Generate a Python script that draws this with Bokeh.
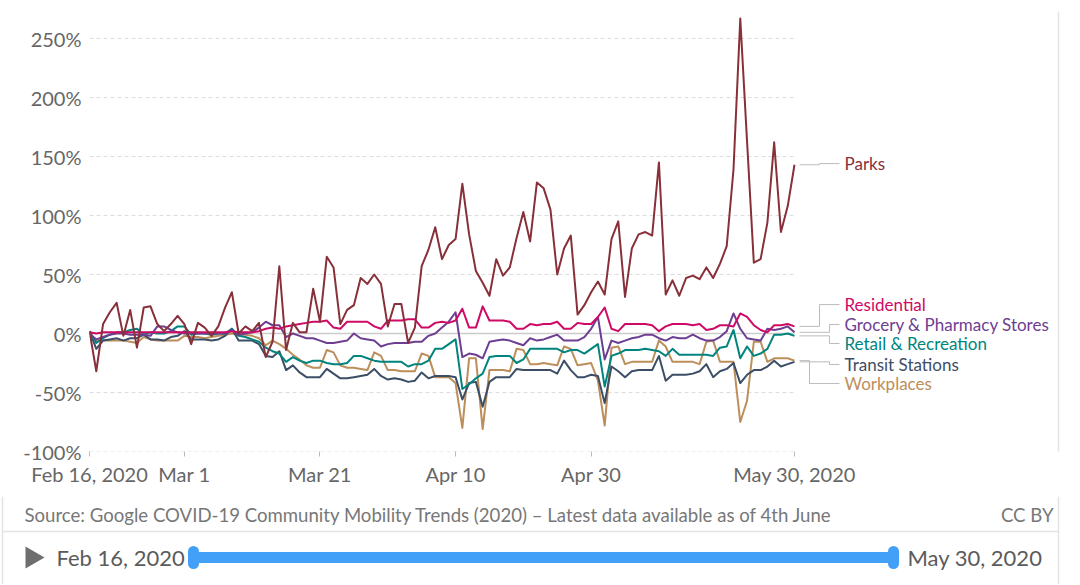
import pandas as pd
from bokeh.plotting import figure
from bokeh.layouts import column
from bokeh.models import FixedTicker, Range1d, ColumnDataSource
from bokeh.embed import file_html
from bokeh.resources import INLINE
from bokeh.core.properties import value

# ---------------- data ----------------
dates = pd.date_range("2020-02-16", "2020-05-30", freq="D")

parks = [2, -32, 8, 18, 26, -2, 20, -12, 22, 23,
         8, 2, 8, 15, 8, -9, 9, 5, -2, 6,
         22, 35, 0, 6, 2, 9, -20, -7, 57, -14,
         9, 1, 1, 38, 10, 65, 56, 8, 20, 24,
         47, 42, 50, 42, 6, 25, 25, -8, 5, 57,
         71, 90, 63, 75, 80, 127, 84, 53, 43, 32,
         63, 49, 56, 81, 103, 78, 128, 123, 105, 50,
         72, 83, 16, 24, 35, 44, 33, 80, 95, 31,
         72, 84, 86, 83, 145, 33, 45, 32, 47, 49,
         46, 56, 47, 59, 74, 139, 267, 163, 60, 63,
         94, 162, 86, 108, 143]

residential = [1, 0, 1, 1, 1, 1, 1, 1, 1, 1,
               1, 1, 1, 1, 1, 1, 1, 1, 1, 1,
               1, 2, 1, 1, 1, 2, 4, 5, 4, 6,
               7, 8, 9, 10, 10, 11, 5, 4, 10, 10,
               10, 10, 6, 4, 11, 11, 11, 12, 12, 5,
               5, 9, 10, 9, 11, 21, 5, 5, 23, 11,
               11, 11, 10, 4, 4, 8, 7, 8, 8, 10,
               4, 4, 9, 8, 8, 14, 22, 4, 2, 8,
               8, 8, 8, 7, 2, 6, 8, 8, 8, 7,
               8, 3, 4, 7, 7, 6, 17, 14, 7, 3,
               1, 7, 7, 8, 6]

grocery = [0, -5, -3, -1, 0, 0, -1, -1, -1, -2,
           6, 6, 3, 1, 0, 0, 0, 0, 0, 0,
           0, 3, -1, 0, 1, 5, 10, 7, 7, -3,
           0, -2, -4, -4, -6, -8, -8, -7, -6, 0,
           -4, -5, -6, -11, -9, -8, -8, -8, -7, -7,
           -2, 0, 5, 10, 18, -20, -17, -18, -21, -7,
           -6, -5, -6, -8, -10, -4, -6, -5, -3, -1,
           -6, -6, -6, -3, 4, 14, -22, -6, -8, -6,
           -4, -3, -1, -1, -4, -6, -3, -4, -4, -1,
           -4, -6, -6, -3, 2, 17, 4, -4, -5, -6,
           4, 3, 4, 6, 1]

retail = [2, -8, -4, -1, 1, 1, 3, 4, -1, 1,
          0, 0, 2, 6, 6, -1, 0, 0, -1, 0,
          0, 4, -2, -3, -5, -7, -12, -15, -17, -24,
          -20, -23, -25, -23, -23, -25, -26, -26, -25, -19,
          -19, -21, -23, -24, -24, -24, -24, -28, -26, -26,
          -23, -13, -13, -9, -5, -47, -43, -38, -34, -20,
          -19, -19, -19, -25, -22, -13, -13, -13, -13, -13,
          -16, -14, -14, -17, -13, -9, -45, -19, -17, -14,
          -14, -14, -13, -14, -15, -19, -13, -18, -18, -18,
          -18, -18, -19, -12, -11, 3, -21, -11, -19, -17,
          -13, -1, -1, 0, -2]

transit = [2, -13, -6, -5, -4, -6, -4, -4, -1, -5,
           -5, -6, -3, -2, 2, -5, -5, -5, -6, -5,
           -2, 4, -6, -6, -6, -9, -19, -20, -15, -31,
           -27, -33, -37, -37, -37, -30, -34, -38, -38, -37,
           -36, -35, -30, -36, -39, -38, -39, -41, -40, -33,
           -38, -36, -36, -36, -37, -56, -42, -41, -62, -41,
           -37, -37, -37, -30, -31, -31, -31, -31, -31, -34,
           -23, -31, -37, -37, -35, -36, -59, -28, -32, -37,
           -32, -31, -31, -31, -19, -40, -35, -35, -35, -34,
           -32, -26, -37, -32, -30, -25, -42, -35, -31, -31,
           -28, -23, -28, -26, -24]

workplaces = [-2, -6, -6, -6, -6, -6, -7, -8, -3, -5,
              -6, -6, -6, -6, -2, -3, -3, -4, -3, -2,
              -1, 0, -1, -1, -2, -4, -10, -6, -9, -13,
              -18, -22, -27, -29, -29, -14, -16, -27, -29, -29,
              -30, -31, -16, -19, -31, -31, -32, -32, -32, -17,
              -19, -37, -37, -37, -42, -80, -21, -21, -81, -31,
              -31, -31, -32, -13, -14, -26, -26, -25, -26, -27,
              -11, -13, -27, -26, -25, -40, -78, -12, -11, -26,
              -24, -24, -24, -24, -6, -11, -24, -24, -24, -24,
              -26, -7, -6, -24, -24, -24, -75, -57, -7, -7,
              -24, -21, -21, -21, -23]

series_names = ["Workplaces", "Transit Stations", "Retail & Recreation",
                "Grocery & Pharmacy Stores", "Residential", "Parks"]
series_values = [workplaces, transit, retail, grocery, residential, parks]
series_colors = ["#BC8E5A", "#3C4E66", "#00847E", "#6D3E91", "#CF0A66", "#883039"]

x_tick_dates = ["2020-02-16", "2020-03-01", "2020-03-21", "2020-04-10",
                "2020-04-30", "2020-05-30"]
x_tick_labels = ["Feb 16, 2020", "Mar 1", "Mar 21", "Apr 10", "Apr 30", "May 30, 2020"]
y_ticks = [-100, -50, 0, 50, 100, 150, 200, 250]
y_tick_labels = ["-100%", "-50%", "0%", "50%", "100%", "150%", "200%", "250%"]

source_text = ("Source: Google COVID-19 Community Mobility Trends (2020) "
               "\u2013 Latest data available as of 4th June")
license_text = "CC BY"
timeline_start = "Feb 16, 2020"
timeline_end = "May 30, 2020"

# ---------------- layout (figure pixels) ----------------
W = 1078
H_MAIN = 496
H_FOOT = 584 - H_MAIN
LEFT, TOP, BOTTOM = 89, 11, 45
frame_w = W - LEFT
frame_h = H_MAIN - TOP - BOTTOM
DATA_PX = 705          # pixels covered by the date span
PX_PER_UNIT = 1.18     # pixels per percentage point

def ms(ts):
    return pd.Timestamp(ts).value // 10**6

x0 = ms(dates[0])
x_last = ms(dates[-1])
ms_per_px = (x_last - x0) / DATA_PX
x1 = x0 + frame_w * ms_per_px
y0 = -100
y1 = y0 + frame_h / PX_PER_UNIT

FONT = "Lato"
AXIS_GREY = "#666666"
BORDER = "#e3e3e3"

p = figure(width=W, height=H_MAIN, x_axis_type="datetime",
           x_range=Range1d(x0, x1), y_range=Range1d(y0, y1),
           output_backend="svg", toolbar_location=None,
           min_border_left=LEFT, min_border_right=0,
           min_border_top=TOP, min_border_bottom=BOTTOM)
p.frame_align = False
p.outline_line_color = None
p.grid.visible = False

# grid lines only across the data span
gy = [t for t in y_ticks if t != 0]
p.segment(x0=[x0] * len(gy), y0=gy, x1=[x_last] * len(gy), y1=gy,
          line_color="#dddddd", line_width=1, line_dash="4 3")
p.segment(x0=[x0], y0=[0], x1=[x_last], y1=[0], line_color="#cccccc", line_width=1.6)

# right chart border
bx = x0 + (1058 - LEFT) * ms_per_px
p.segment(x0=[bx], y0=[y0 - 50], x1=[bx], y1=[y1 + 50], line_color=BORDER, line_width=1.5)

xa = p.xaxis[0]
x_tick_ms = [ms(d) for d in x_tick_dates]
xa.ticker = FixedTicker(ticks=x_tick_ms)
xa.major_label_overrides = {int(t): lab for t, lab in zip(x_tick_ms, x_tick_labels)}
xa.axis_line_color = None
xa.major_tick_in = 0
xa.major_tick_out = 5
xa.major_tick_line_color = "#bbbbbb"
xa.minor_tick_line_color = None
xa.major_label_standoff = 5
xa.major_label_text_font = FONT
xa.major_label_text_font_size = "20px"
xa.major_label_text_color = AXIS_GREY

ya = p.yaxis[0]
ya.ticker = FixedTicker(ticks=y_ticks)
ya.major_label_overrides = {t: lab for t, lab in zip(y_ticks, y_tick_labels)}
ya.axis_line_color = None
ya.major_tick_line_color = None
ya.minor_tick_line_color = None
ya.major_tick_in = 0
ya.major_tick_out = 0
ya.major_label_standoff = 8
ya.major_label_text_font = FONT
ya.major_label_text_font_size = "20px"
ya.major_label_text_color = AXIS_GREY

for name, vals, col in zip(series_names, series_values, series_colors):
    p.line(x=dates, y=vals, line_color=col, line_width=2, line_join="round")

# line labels with connectors
label_y = {"Parks": 144, "Residential": 24.5, "Grocery & Pharmacy Stores": 7.6,
           "Retail & Recreation": -8.5, "Transit Stations": -26.3, "Workplaces": -42.4}
elbow_px = {"Parks": 25, "Residential": 25, "Grocery & Pharmacy Stores": 35,
            "Retail & Recreation": 35, "Transit Stations": 35, "Workplaces": 15}
xs, ys = [], []
lab_x, lab_yv, lab_t, lab_c = [], [], [], []
for name, vals, col in zip(series_names, series_values, series_colors):
    ly = label_y[name]
    ex = x_last + elbow_px[name] * ms_per_px
    xs.append([x_last + 5 * ms_per_px, ex, ex, x_last + 45 * ms_per_px])
    ys.append([vals[-1], vals[-1], ly, ly])
    lab_x.append(x_last + 50 * ms_per_px)
    lab_yv.append(ly)
    lab_t.append(name)
    lab_c.append(col)
p.multi_line(xs=xs, ys=ys, line_color="#bbbbbb", line_width=1)
p.text(x="x", y="y", text="t", text_color="c",
       source=ColumnDataSource(dict(x=lab_x, y=lab_yv, t=lab_t, c=lab_c)),
       text_font=value(FONT), text_font_size="17px",
       text_baseline="middle", text_align="left")

# ---------------- footer ----------------
q = figure(width=W, height=H_FOOT, x_range=Range1d(0, W), y_range=Range1d(H_FOOT, 0),
           output_backend="svg", toolbar_location=None,
           x_axis_location=None, y_axis_location=None, min_border=0)
q.frame_align = False
q.outline_line_color = None
q.grid.visible = False

SRC_Y = 18
q.text(x=[24], y=[SRC_Y], text=[source_text], text_font=value(FONT), text_font_size="18.6px",
       text_color="#777777", text_baseline="middle", text_align="left")
q.text(x=[1053], y=[SRC_Y], text=[license_text], text_font=value(FONT), text_font_size="18.6px",
       text_color="#777777", text_baseline="middle", text_align="right")
# border lines
q.segment(x0=[2], y0=[35], x1=[1058], y1=[35], line_color=BORDER, line_width=1.5)
q.segment(x0=[2, 1058], y0=[0, 0], x1=[2, 1058], y1=[H_FOOT, H_FOOT],
          line_color=BORDER, line_width=1.5)

TL_Y = 61
q.patch(x=[25, 25, 44], y=[TL_Y - 11, TL_Y + 11, TL_Y], fill_color="#6e6e6e", line_color=None)
q.text(x=[56], y=[TL_Y], text=[timeline_start], text_font=value(FONT), text_font_size="22px",
       text_color="#5b5b5b", text_baseline="middle", text_align="left")
q.segment(x0=[193], y0=[TL_Y], x1=[893], y1=[TL_Y], line_color="#42A0F8", line_width=11)
q.segment(x0=[193, 893], y0=[TL_Y - 6, TL_Y - 6], x1=[193, 893], y1=[TL_Y + 6, TL_Y + 6],
          line_color="#42A0F8", line_width=11, line_cap="round")
q.text(x=[907], y=[TL_Y], text=[timeline_end], text_font=value(FONT), text_font_size="22px",
       text_color="#5b5b5b", text_baseline="middle", text_align="left")

layout = column(p, q, spacing=0)
open("out.html", "w").write(file_html(layout, INLINE))
